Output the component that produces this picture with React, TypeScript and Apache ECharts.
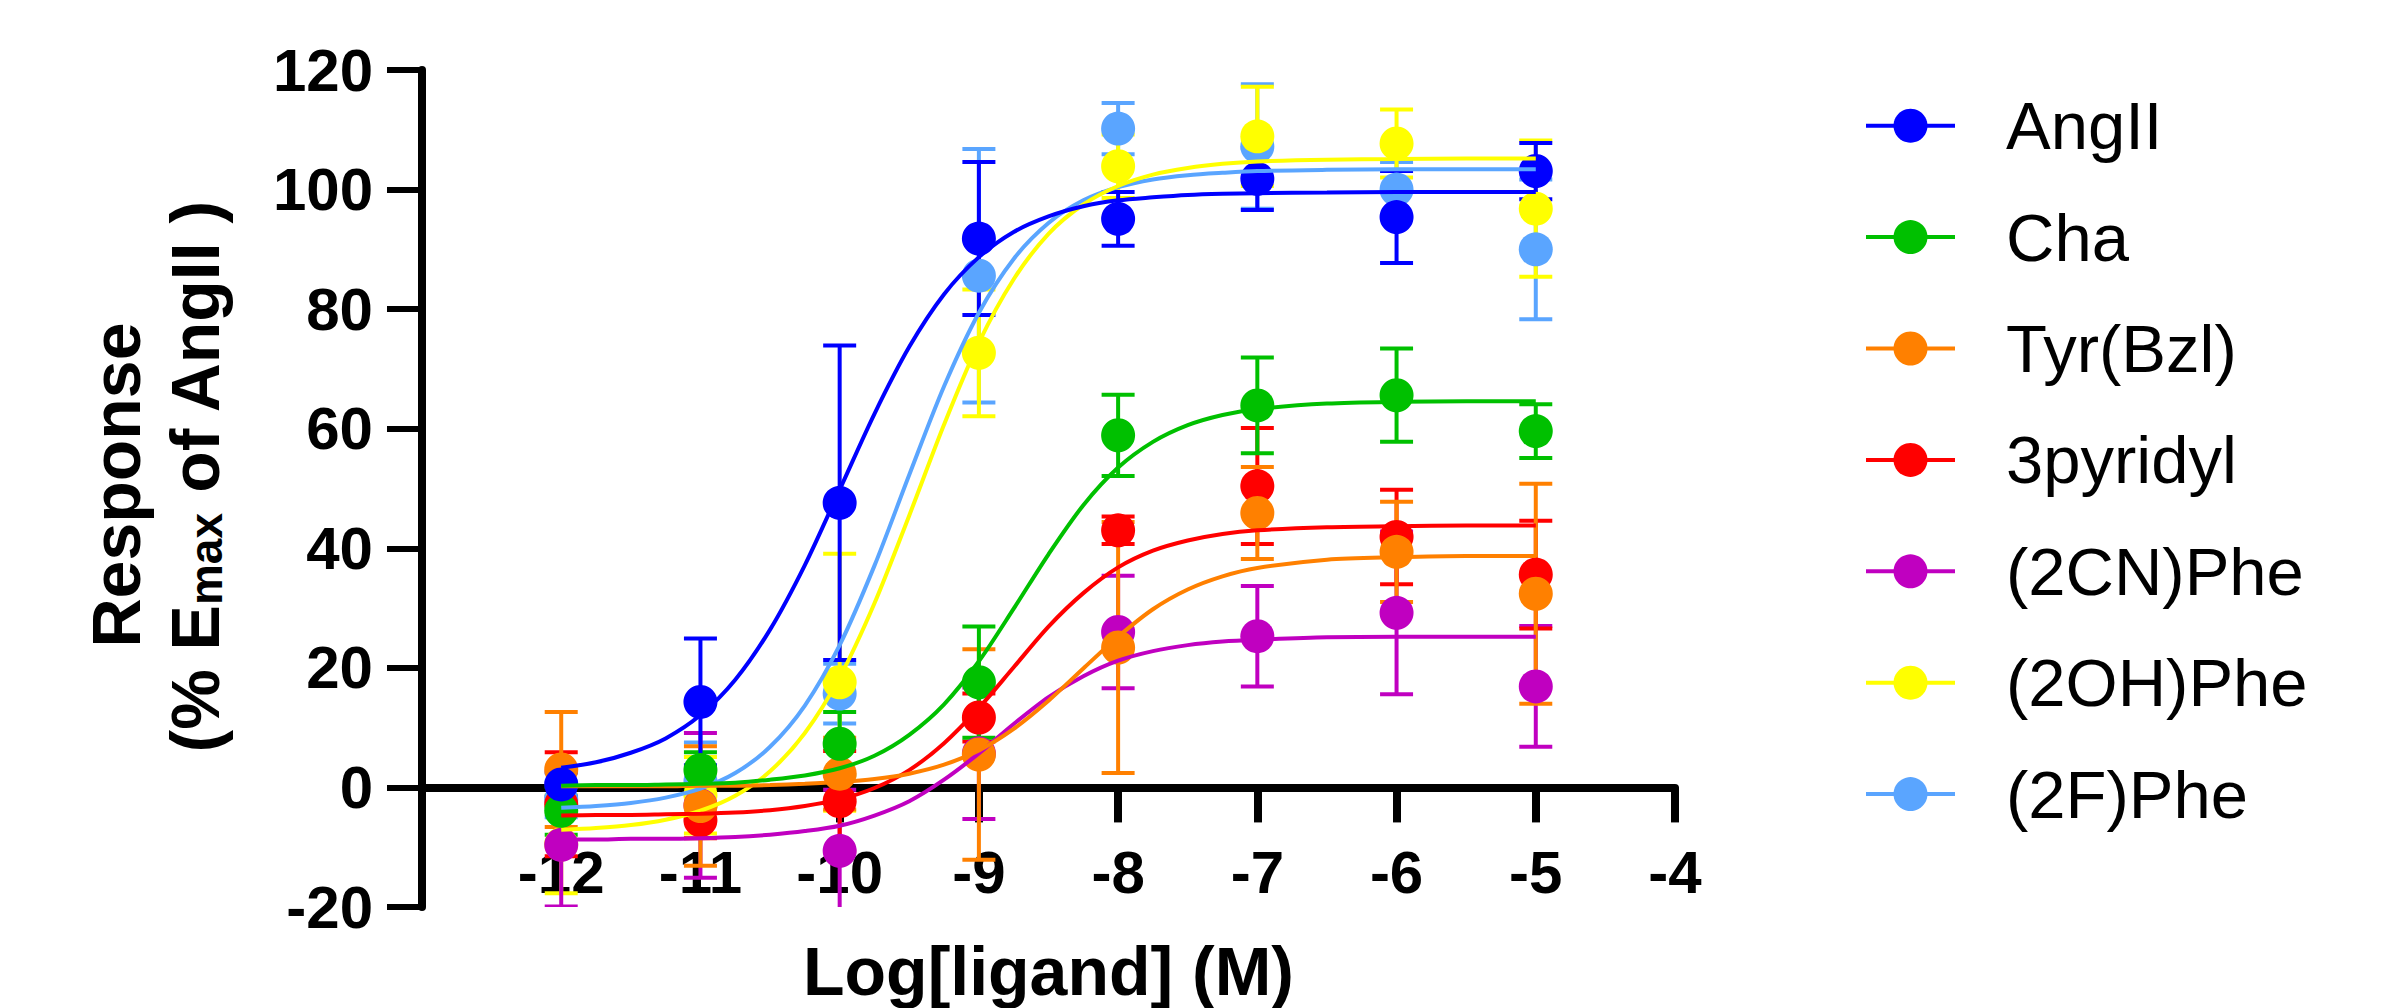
import React, { useEffect, useRef } from 'react';
import * as echarts from 'echarts';

// ---------- data ----------
const doseLogM = [-12, -11, -10, -9, -8, -7, -6, -5];

const seriesNames = ['AngII', 'Cha', 'Tyr(Bzl)', '3pyridyl', '(2CN)Phe', '(2OH)Phe', '(2F)Phe'];
const seriesColors = ['#0000FF', '#00C000', '#FF8000', '#FF0000', '#C000C0', '#FFFF00', '#5AA5FF'];

// mean response (% Emax of AngII) at each dose
const angIIMean = [0.5, 14.3, 47.6, 91.8, 95.1, 101.8, 95.4, 103.1];
const chaMean = [-3.9, 2.9, 7.3, 17.6, 58.9, 63.9, 65.6, 59.6];
const tyrBzlMean = [3.0, -3.1, 2.3, 5.5, 23.4, 45.9, 39.4, 32.4];
const pyridylMean = [-2.8, -5.5, -2.3, 11.7, 43.0, 50.4, 41.9, 35.6];
const cnPheMean = [-9.6, -3.0, -10.6, 5.7, 26.0, 25.3, 29.2, 16.9];
const ohPheMean = [-9.5, -1.3, 17.6, 72.7, 103.9, 108.9, 107.7, 96.8];
const fPheMean = [-2.0, 1.0, 15.7, 85.6, 110.2, 107.2, 100.0, 90.0];

// error (SEM) at each dose
const angIISem = [2.0, 10.6, 26.3, 12.8, 4.5, 5.2, 7.7, 4.7];
const chaSem = [4.0, 3.0, 5.3, 9.3, 6.8, 8.0, 7.8, 4.5];
const tyrBzlSem = [9.6, 10.0, 6.0, 17.6, 21.0, 7.7, 8.4, 18.4];
const pyridylSem = [8.7, 3.0, 8.4, 4.0, 2.3, 9.7, 7.9, 9.0];
const cnPheSem = [10.3, 12.1, 10.2, 11.0, 9.4, 8.4, 13.6, 10.1];
const ohPheSem = [8.2, 6.4, 21.5, 10.6, 5.3, 8.3, 5.7, 11.4];
const fPheSem = [3.0, 6.5, 5.0, 21.2, 4.3, 10.4, 4.6, 11.7];

// fitted curves
const fitLogM = [-12, -11.75, -11.5, -11.25, -11, -10.75, -10.5, -10.25, -10, -9.75, -9.5, -9.25, -9, -8.75, -8.5, -8.25, -8, -7.75, -7.5, -7.25, -7, -6.5, -6, -5.5, -5];
const angIIFit = [3.3, 4.2, 5.8, 8.2, 12.1, 18.0, 26.4, 37.2, 49.8, 62.5, 73.7, 82.5, 88.7, 92.9, 95.5, 97.2, 98.2, 98.7, 99.1, 99.3, 99.4, 99.5, 99.6, 99.6, 99.6];
const chaFit = [0.3, 0.4, 0.4, 0.5, 0.6, 0.8, 1.3, 2.0, 3.2, 5.3, 8.8, 13.9, 21.1, 29.9, 39.0, 47.2, 53.5, 57.8, 60.6, 62.3, 63.3, 64.2, 64.5, 64.6, 64.6];
const tyrBzlFit = [0.2, 0.2, 0.2, 0.2, 0.3, 0.3, 0.4, 0.6, 0.9, 1.4, 2.3, 3.8, 6.2, 9.8, 14.5, 19.9, 25.2, 29.8, 33.1, 35.3, 36.7, 38.1, 38.5, 38.7, 38.7];
const pyridylFit = [-4.7, -4.6, -4.6, -4.5, -4.4, -4.2, -3.8, -3.1, -2.0, -0.1, 2.9, 7.4, 13.3, 20.1, 26.9, 32.5, 36.8, 39.6, 41.3, 42.4, 43.0, 43.5, 43.7, 43.8, 43.8];
const cnPheFit = [-8.7, -8.7, -8.6, -8.6, -8.5, -8.3, -7.9, -7.3, -6.4, -4.7, -2.3, 1.3, 5.7, 10.6, 15.1, 18.6, 21.2, 22.8, 23.8, 24.4, 24.7, 25.1, 25.2, 25.2, 25.2];
const ohPheFit = [-7.1, -6.8, -6.3, -5.4, -3.9, -1.4, 2.7, 9.1, 18.4, 30.8, 45.5, 60.7, 74.4, 85.0, 92.6, 97.5, 100.6, 102.5, 103.6, 104.3, 104.7, 105.0, 105.1, 105.2, 105.2];
const fPheFit = [-3.4, -3.1, -2.6, -1.7, -0.2, 2.4, 6.8, 13.7, 23.8, 37.1, 52.3, 67.1, 79.4, 88.4, 94.4, 98.2, 100.4, 101.7, 102.4, 102.8, 103.1, 103.3, 103.4, 103.4, 103.4];

const meanValues = [angIIMean, chaMean, tyrBzlMean, pyridylMean, cnPheMean, ohPheMean, fPheMean];
const semValues = [angIISem, chaSem, tyrBzlSem, pyridylSem, cnPheSem, ohPheSem, fPheSem];
const fitValues = [angIIFit, chaFit, tyrBzlFit, pyridylFit, cnPheFit, ohPheFit, fPheFit];

const xMin = -13;
const xMax = -4;
const yMin = -20;
const yMax = 120;
const yTickStep = 20;

const xTitle = 'Log[ligand] (M)';
const yTitleLine1 = 'Response';

// ---------- chart ----------
const FONT = "'Liberation Sans', Arial, Helvetica, sans-serif";

function buildOption() {
  const series: any[] = [];
  for (let i = seriesNames.length - 1; i >= 0; i--) {
    const color = seriesColors[i];
    series.push({
      type: 'custom',
      name: seriesNames[i] + ' error',
      clip: true,
      silent: true,
      data: doseLogM.map((x, j) => [x, meanValues[i][j], semValues[i][j]]),
      encode: { x: 0, y: 1 },
      renderItem: (params: any, api: any) => {
        const x = api.value(0);
        const m = api.value(1);
        const e = api.value(2);
        const hiV = m + e;
        const loV = m - e;
        const hi = api.coord([x, Math.min(hiV, yMax)]);
        const lo = api.coord([x, Math.max(loV, yMin)]);
        const hw = 16.5;
        const st = { stroke: color, lineWidth: 4 };
        const children: any[] = [
          { type: 'line', shape: { x1: hi[0], y1: hi[1], x2: lo[0], y2: lo[1] }, style: st },
        ];
        if (hiV <= yMax) {
          children.push({ type: 'line', shape: { x1: hi[0] - hw, y1: hi[1], x2: hi[0] + hw, y2: hi[1] }, style: st });
        }
        if (loV >= yMin) {
          children.push({ type: 'line', shape: { x1: lo[0] - hw, y1: lo[1], x2: lo[0] + hw, y2: lo[1] }, style: st });
        }
        return { type: 'group', children };
      },
    });
    series.push({
      type: 'line',
      name: seriesNames[i] + ' fit',
      silent: true,
      showSymbol: false,
      symbol: 'none',
      smooth: 0.3,
      data: fitLogM.map((x, j) => [x, fitValues[i][j]]),
      lineStyle: { color, width: 4 },
      itemStyle: { color },
    });
    series.push({
      type: 'scatter',
      name: seriesNames[i],
      silent: true,
      symbol: 'circle',
      symbolSize: 34,
      data: doseLogM.map((x, j) => [x, meanValues[i][j]]),
      itemStyle: { color, opacity: 1 },
    });
  }

  const legendTop = 125.7;
  const legendStep = 111.4;
  const legendEls: any[] = [];
  seriesNames.forEach((name, i) => {
    const y = legendTop + legendStep * i;
    legendEls.push({
      type: 'line',
      shape: { x1: 1866, y1: y, x2: 1955, y2: y },
      style: { stroke: seriesColors[i], lineWidth: 4 },
    });
    legendEls.push({
      type: 'circle',
      shape: { cx: 1910.5, cy: y, r: 17 },
      style: { fill: seriesColors[i] },
    });
    legendEls.push({
      type: 'text',
      x: 2006,
      y,
      style: {
        text: name,
        fontSize: 67,
        fontFamily: FONT,
        fill: '#000',
        align: 'left',
        verticalAlign: 'middle',
      },
    });
  });

  return {
    animation: false,
    backgroundColor: '#ffffff',
    grid: { left: 422, top: 70, width: 1253, height: 837, containLabel: false, outerBoundsMode: 'none' },
    xAxis: {
      type: 'value',
      min: xMin,
      max: xMax,
      interval: 1,
      name: xTitle,
      nameLocation: 'middle',
      nameGap: 30,
      nameTextStyle: { fontSize: 68, fontWeight: 'bold', fontFamily: FONT, color: '#000' },
      axisLine: { show: true, onZero: true, lineStyle: { color: '#000', width: 8 } },
      axisTick: { show: true, length: 35, lineStyle: { color: '#000', width: 8 } },
      axisLabel: {
        fontSize: 60,
        fontWeight: 'bold',
        fontFamily: FONT,
        color: '#000',
        margin: -65,
        formatter: (v: number) => (v === xMin ? '' : String(v)),
      },
      splitLine: { show: false },
    },
    yAxis: {
      type: 'value',
      min: yMin,
      max: yMax,
      interval: yTickStep,
      axisLine: { show: true, onZero: false, lineStyle: { color: '#000', width: 8 } },
      axisTick: { show: true, length: 35, lineStyle: { color: '#000', width: 6 } },
      axisLabel: { fontSize: 60, fontWeight: 'bold', fontFamily: FONT, color: '#000', margin: 49 },
      splitLine: { show: false },
    },
    graphic: [
      {
        type: 'text',
        x: 116,
        y: 485,
        rotation: Math.PI / 2,
        style: {
          text: yTitleLine1,
          fontSize: 68,
          fontWeight: 'bold',
          fontFamily: FONT,
          fill: '#000',
          align: 'center',
          verticalAlign: 'middle',
        },
      },
      {
        type: 'text',
        x: 195,
        y: 476,
        rotation: Math.PI / 2,
        style: {
          text: '{a|(% E}{s|max}{a| of AngII )}',
          fill: '#000',
          align: 'center',
          verticalAlign: 'middle',
          rich: {
            a: { fontSize: 68, fontWeight: 'bold', fontFamily: FONT, fill: '#000', lineHeight: 68 },
            s: { fontSize: 46, fontWeight: 'bold', fontFamily: FONT, fill: '#000', lineHeight: 30, verticalAlign: 'bottom' },
          },
        },
      },
      ...legendEls,
    ],
    series,
  };
}

export default function App() {
  const ref = useRef<HTMLDivElement>(null);
  useEffect(() => {
    if (!ref.current) return;
    const chart = echarts.init(ref.current, undefined, { renderer: 'svg' });
    chart.setOption(buildOption() as any);
    return () => chart.dispose();
  }, []);
  return (
    <div
      ref={ref}
      style={{ position: 'absolute', left: 0, top: 0, width: 2389, height: 1008, background: '#fff' }}
    />
  );
}
